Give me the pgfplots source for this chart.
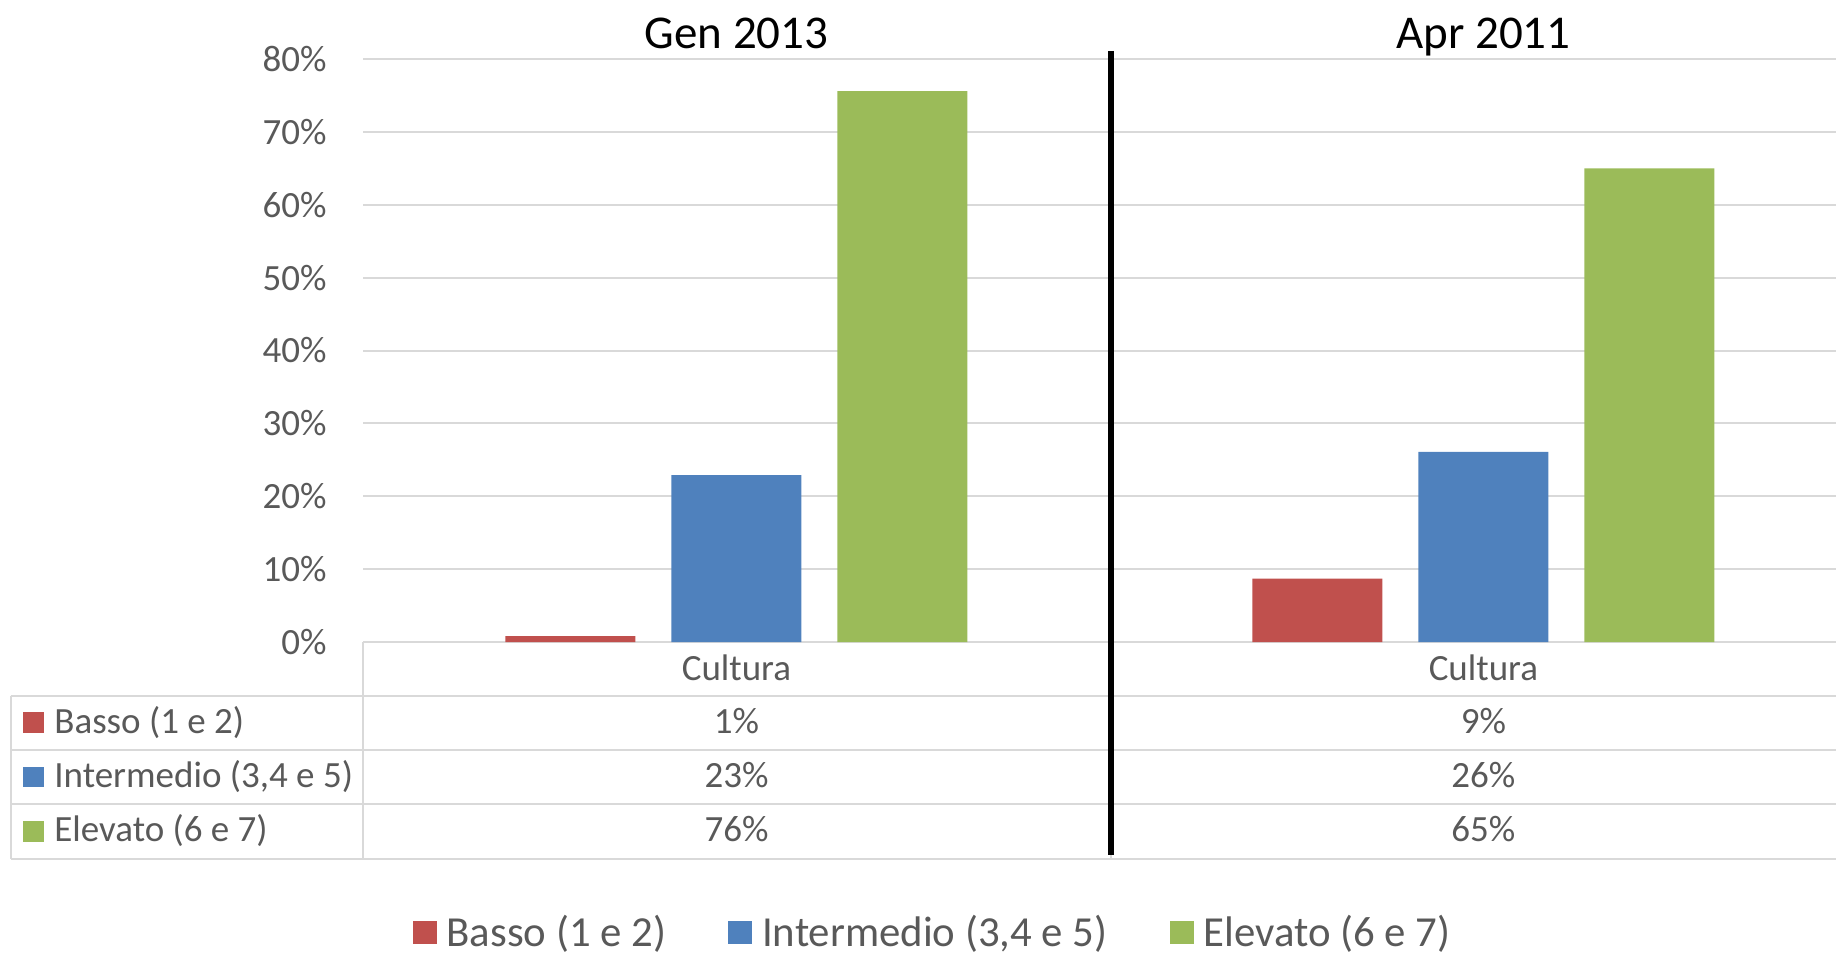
\documentclass[border=0pt]{standalone}
\usepackage{pgfplots}
\pgfplotsset{compat=1.18}
\usepackage{fontspec}
\setmainfont{Carlito}
\definecolor{cRed}{HTML}{C0504D}
\definecolor{cBlue}{HTML}{4F81BD}
\definecolor{cGreen}{HTML}{9BBB59}
\definecolor{gridc}{HTML}{D9D9D9}
\definecolor{txt}{HTML}{595959}
\newcommand{\tfont}{\fontsize{18.5}{22}\selectfont}
\begin{document}
\begin{tikzpicture}[x=1pt,y=1pt]
\begin{axis}[
  at={(181.5pt,156pt)}, anchor=south west,
  scale only axis, width=736.5pt, height=291.5pt,
  xmin=-0.5, xmax=1.472, ymin=0, ymax=80,
  ybar=18pt, bar width=65pt,
  axis x line*=bottom, axis y line*=left,
  axis line style={draw=none},
  major tick length=0pt,
  ytick={0,10,...,80},
  /pgf/number format/assume math mode=true,
  yticklabel={\pgfmathprintnumber{\tick}\%},
  yticklabel style={font=\tfont, text=txt, inner sep=0pt, xshift=-18pt, anchor=east},
  xtick={0,1}, xticklabels={Cultura,Cultura},
  xticklabel style={font=\tfont, text=txt, inner sep=0pt, anchor=base, yshift=-19pt},
  ymajorgrids, grid style={gridc, line width=1pt},
  clip=false,
  legend columns=3,
  legend style={at={(0.3873,-0.4985)}, anchor=center, draw=none, fill=none,
    font=\fontsize{21.4}{25}\selectfont, text=txt,
    /tikz/every odd column/.append style={column sep=3pt},
    /tikz/every even column/.append style={column sep=29pt}},
  legend image code/.code={\fill[#1] (0pt,-5.5pt) rectangle (12pt,6pt);},
]
\addplot[fill=cRed, draw=none] coordinates {(0,0.8) (1,8.7)};
\addplot[fill=cBlue, draw=none] coordinates {(0,22.9) (1,26.1)};
\addplot[fill=cGreen, draw=none] coordinates {(0,75.6) (1,65.0)};
\legend{{Basso (1 e 2)}, {Intermedio (3,4 e 5)}, {Elevato (6 e 7)}}
\end{axis}
% data table
\draw[gridc, line width=1pt] (5.3,129) -- (930,129);
\draw[gridc, line width=1pt] (5.3,102) -- (930,102);
\draw[gridc, line width=1pt] (5.3,75) -- (930,75);
\draw[gridc, line width=1pt] (5.3,47.5) -- (930,47.5);
\draw[gridc, line width=1pt] (5.3,129) -- (5.3,47.5);
\draw[gridc, line width=1pt] (181.5,156) -- (181.5,47.5);
\draw[gridc, line width=1pt] (555.35,156) -- (555.35,47.5);
\fill[cRed] (11.5,110.65) rectangle (22,120.85);
\fill[cBlue] (11.5,83.35) rectangle (22,93.65);
\fill[cGreen] (11.5,56.15) rectangle (22,66.65);
\begin{scope}[every node/.style={font=\tfont, text=txt, inner sep=0pt}]
\node[anchor=base west] at (27,110.4) {Basso (1 e 2)};
\node[anchor=base west] at (27,83.4) {Intermedio (3,4 e 5)};
\node[anchor=base west] at (27,56.4) {Elevato (6 e 7)};
\node[anchor=base] at (368.24,110.4) {1\%};
\node[anchor=base] at (368.24,83.4) {23\%};
\node[anchor=base] at (368.24,56.4) {76\%};
\node[anchor=base] at (741.7,110.4) {9\%};
\node[anchor=base] at (741.7,83.4) {26\%};
\node[anchor=base] at (741.7,56.4) {65\%};
\end{scope}
% titles
\node[font=\fontsize{23.5}{28}\selectfont, anchor=base, inner sep=0pt] at (368.24,452.9) {Gen 2013};
\node[font=\fontsize{23.5}{28}\selectfont, anchor=base, inner sep=0pt] at (741.7,452.9) {Apr 2011};
% divider
\draw[black, line width=2.8pt] (555.35,451.5) -- (555.35,49.5);
\pgfresetboundingbox
\useasboundingbox (0,0) rectangle (918,477);
\end{tikzpicture}
\end{document}
